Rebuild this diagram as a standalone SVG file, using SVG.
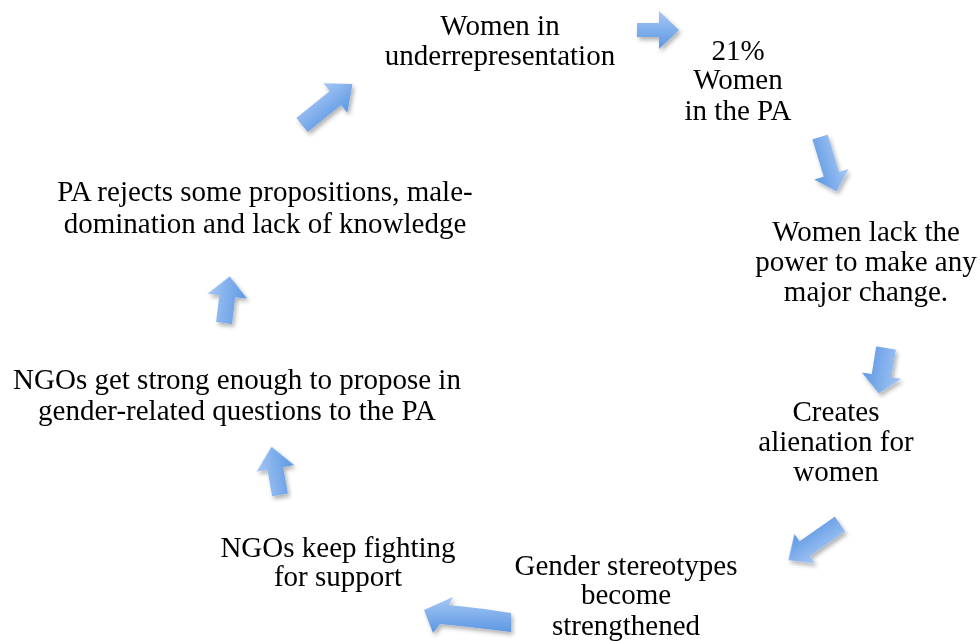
<svg xmlns="http://www.w3.org/2000/svg" width="980" height="641" viewBox="0 0 980 641">
<defs>
<linearGradient id="g" x1="0" y1="0" x2="0" y2="1">
<stop offset="0" stop-color="#a6c7f4"/>
<stop offset="1" stop-color="#5b97e3"/>
</linearGradient>
<filter id="sh" x="-30%" y="-30%" width="160%" height="160%">
<feDropShadow dx="2" dy="3" stdDeviation="2" flood-color="#000" flood-opacity="0.3"/>
</filter>
</defs>
<rect width="980" height="641" fill="#fff"/>
<g id="connectors" fill="url(#g)" filter="url(#sh)">
<path transform="translate(302,125) rotate(-39)" d="M0,-9 L43,-9 L43,-19 L65,0 L43,19 L43,9 L0,9 Z"/>
<path transform="translate(637,30)" d="M0,-7 L22,-7 L22,-19 L42,0 L22,19 L22,7 L0,7 Z"/>
<path transform="translate(820,137) rotate(73)" d="M0,-8 L39,-8 L39,-18 L57,0 L39,18 L39,8 L0,8 Z"/>
<path transform="translate(886,348) rotate(99)" d="M0,-10 L28,-10 L28,-20 L46,0 L28,20 L28,10 L0,10 Z"/>
<path transform="translate(840,524) rotate(145)" d="M0,-9 L43,-9 L43,-18 L63,0 L43,18 L43,9 L0,9 Z"/>
<path d="M511,613 Q480,608 449,605 L453,597 L424,610 L433,633 L440,624 Q480,628 511,632 Z"/>
<path transform="translate(280,495) rotate(-100)" d="M0,-8 L27,-8 L27,-19 L49,0 L27,19 L27,8 L0,8 Z"/>
<path transform="translate(224,323) rotate(-83)" d="M0,-8 L27,-8 L27,-20 L47,0 L27,20 L27,8 L0,8 Z"/>
</g>
<g font-size="29" font-family="Liberation Serif" text-anchor="middle">
<g id="n1"><text x="500" y="35">Women in</text><text x="500" y="65">underrepresentation</text></g>
<g id="n2"><text x="738" y="60">21%</text><text x="738" y="89">Women</text><text x="738" y="120">in the PA</text></g>
<g id="n3"><text x="866" y="241">Women lack the</text><text x="866" y="271">power to make any</text><text x="866" y="301">major change.</text></g>
<g id="n4"><text x="836" y="421">Creates</text><text x="836" y="451">alienation for</text><text x="836" y="481">women</text></g>
<g id="n5"><text x="626" y="575">Gender stereotypes</text><text x="626" y="604">become</text><text x="626" y="635">strengthened</text></g>
<g id="n6"><text x="338" y="557">NGOs keep fighting</text><text x="338" y="586">for support</text></g>
<g id="n7"><text x="237" y="389">NGOs get strong enough to propose in</text><text x="237" y="420">gender-related questions to the PA</text></g>
<g id="n8"><text x="265" y="201">PA rejects some propositions, male-</text><text x="265" y="233">domination and lack of knowledge</text></g>
</g>
</svg>
